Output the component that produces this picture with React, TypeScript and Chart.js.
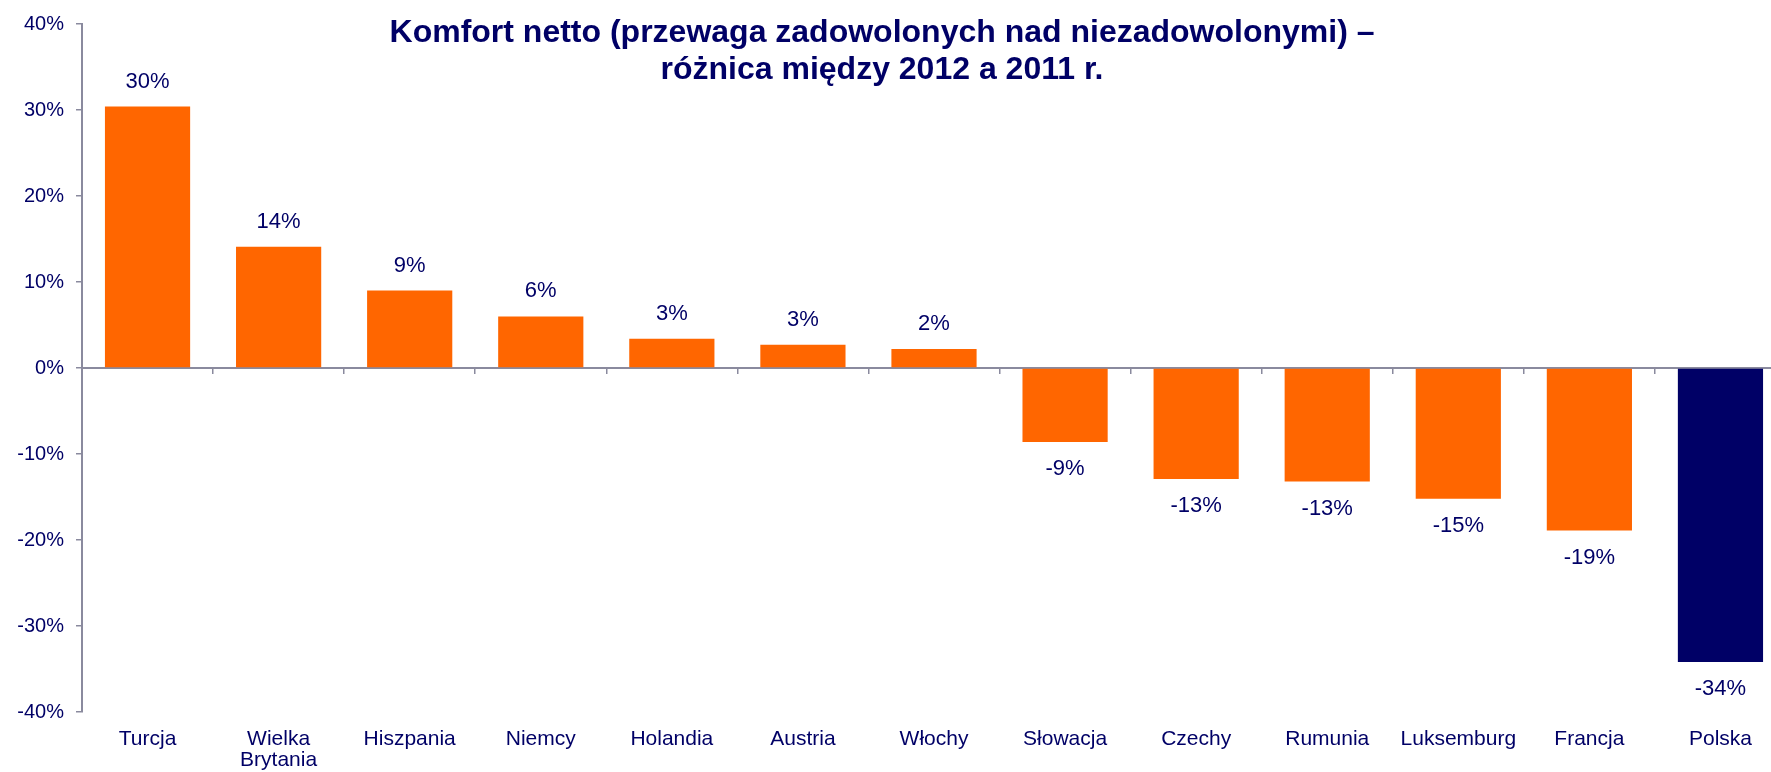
import React, { useEffect, useRef } from "react";
import { Chart, registerables } from "chart.js";

Chart.register(...registerables);

const categories: (string | string[])[] = [
  "Turcja",
  ["Wielka", "Brytania"],
  "Hiszpania",
  "Niemcy",
  "Holandia",
  "Austria",
  "Włochy",
  "Słowacja",
  "Czechy",
  "Rumunia",
  "Luksemburg",
  "Francja",
  "Polska",
];

const values: number[] = [30.4, 14.1, 9.0, 6.0, 3.4, 2.7, 2.2, -8.6, -12.9, -13.2, -15.2, -18.9, -34.2];

const highlightCategory = "Polska";

const titleLines: string[] = [
  "Komfort netto (przewaga zadowolonych nad niezadowolonymi) –",
  "różnica między 2012 a 2011 r.",
];

const ORANGE = "#FF6600";
const NAVY = "#000066";
const AXIS = "#8A8A9E";
const FONT = "'Liberation Sans', Arial, sans-serif";

const W = 1786;
const H = 772;

const titlePlugin = {
  id: "customTitle",
  afterDraw(chart: any) {
    const ctx = chart.ctx;
    ctx.save();
    ctx.fillStyle = NAVY;
    ctx.font = `bold 32px ${FONT}`;
    ctx.textAlign = "center";
    ctx.textBaseline = "alphabetic";
    titleLines.forEach((line, i) => {
      ctx.fillText(line, 882, 42 + i * 37);
    });
    ctx.restore();
  },
};

const valueLabelPlugin = {
  id: "valueLabels",
  afterDatasetsDraw(chart: any) {
    const ctx = chart.ctx;
    const meta = chart.getDatasetMeta(0);
    ctx.save();
    ctx.fillStyle = NAVY;
    ctx.font = `22px ${FONT}`;
    ctx.textAlign = "center";
    ctx.textBaseline = "middle";
    meta.data.forEach((bar: any, i: number) => {
      const v = values[i];
      const txt = `${Math.round(v)}%`;
      const y = v >= 0 ? bar.y - 25 : bar.y + 27;
      ctx.fillText(txt, bar.x, y);
    });
    ctx.restore();
  },
};

export default function App() {
  const ref = useRef<HTMLCanvasElement | null>(null);

  useEffect(() => {
    if (!ref.current) return;
    const labelsFlat = categories.map((c) => (Array.isArray(c) ? c.join(" ") : c));
    const chart = new Chart(ref.current, {
      type: "bar",
      data: {
        labels: categories as any,
        datasets: [
          {
            data: values,
            backgroundColor: labelsFlat.map((l) => (l === highlightCategory ? NAVY : ORANGE)),
            borderWidth: 0,
            barPercentage: 0.65,
            categoryPercentage: 1.0,
          },
        ],
      },
      options: {
        responsive: false,
        animation: false,
        events: [],
        layout: { padding: { top: 23, left: 0, right: 0, bottom: 0 } },
        plugins: {
          legend: { display: false },
          title: { display: false },
          tooltip: { enabled: false },
        },
        scales: {
          x: {
            position: "bottom",
            grid: { display: false, drawTicks: false },
            border: { display: false },
            ticks: {
              color: NAVY,
              font: { family: FONT, size: 21, lineHeight: 1.0 },
              padding: 17,
              maxRotation: 0,
              minRotation: 0,
              autoSkip: false,
            },
            afterFit(scale: any) {
              scale.height = 60;
            },
          },
          xZero: {
            type: "category",
            labels: labelsFlat,
            position: { y: 0 } as any,
            offset: true,
            grid: {
              display: true,
              drawOnChartArea: false,
              drawTicks: true,
              tickLength: 5,
              color: AXIS,
              lineWidth: 1.5,
              offset: true,
            },
            border: { display: true, color: AXIS, width: 2 },
            ticks: { display: false },
          } as any,
          y: {
            min: -40,
            max: 40,
            grid: {
              drawOnChartArea: false,
              drawTicks: true,
              tickLength: 6,
              color: AXIS,
              lineWidth: 1.5,
            },
            border: { display: true, color: AXIS, width: 2 },
            ticks: {
              stepSize: 10,
              color: NAVY,
              font: { family: FONT, size: 20 },
              padding: 12,
              callback: (v: any) => `${v}%`,
            },
            afterFit(scale: any) {
              scale.width = 82;
            },
          },
        },
      },
      plugins: [titlePlugin, valueLabelPlugin],
    });
    return () => chart.destroy();
  }, []);

  return (
    <div
      style={{
        position: "fixed",
        left: 0,
        top: 0,
        width: 1771,
        height: 772,
        overflow: "hidden",
        background: "#fff",
      }}
    >
      <canvas ref={ref} width={W} height={H} style={{ width: W, height: H, display: "block" }} />
    </div>
  );
}
